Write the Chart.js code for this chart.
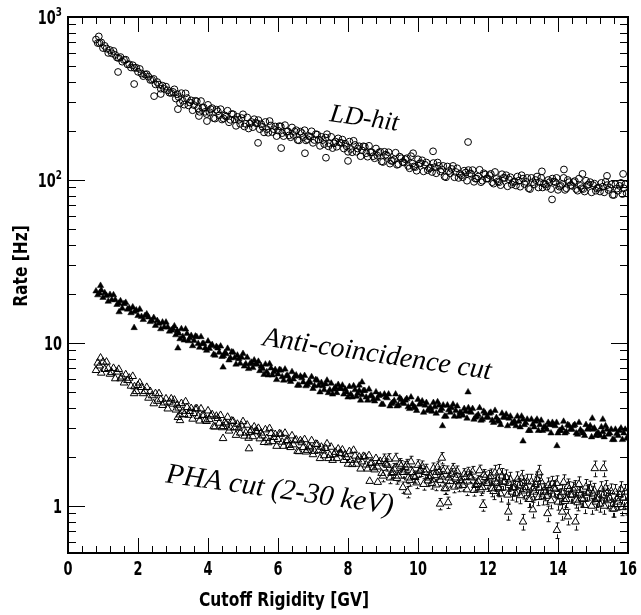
<!DOCTYPE html>
<html lang="en">
<head>
    <meta charset="UTF-8">
    <title>Rate vs Cutoff Rigidity</title>
    <script src="https://cdn.jsdelivr.net/npm/chart.js"></script>
    <style>
        body { margin: 0; background: #fff; }
        canvas { display: block; }
    </style>
</head>
<body>
    <canvas id="rateChart" width="641" height="615"></canvas>
    <script>
        // [cutoff rigidity GV, rate Hz]
        const ldHit = [[0.80,727],[0.85,692],[0.88,760],[0.90,692],[0.95,698],[1.00,645],[1.05,665],[1.10,640],[1.15,602],[1.20,627],[1.25,599],[1.30,619],[1.35,585],[1.40,564],[1.43,460],[1.45,560],[1.50,568],[1.55,532],[1.60,545],[1.65,547],[1.70,512],[1.75,513],[1.80,490],[1.85,506],[1.89,388],[1.90,487],[1.95,488],[2.00,461],[2.05,480],[2.10,450],[2.15,434],[2.20,444],[2.25,446],[2.30,430],[2.35,411],[2.40,412],[2.45,417],[2.46,327],[2.50,386],[2.55,399],[2.60,385],[2.65,363],[2.65,337],[2.70,379],[2.75,362],[2.80,374],[2.85,355],[2.90,343],[2.95,342],
            [3.00,347],[3.08,316],[3.14,272],[3.16,323],[3.24,341],[3.32,290],[3.40,318],[3.48,299],[3.56,268],[3.64,306],[3.72,275],[3.74,247],[3.80,305],[3.88,278],[3.96,254],[3.97,230],[4.04,261],[4.12,276],[4.20,238],[4.28,264],[4.36,272],[4.44,239],[4.52,245],[4.60,226],[4.68,254],[4.76,236],[4.84,244],[4.92,221],[5.00,253],[5.08,221],[5.16,207],[5.24,227],[5.32,236],[5.40,223],[5.43,169],[5.48,205],[5.56,212],[5.64,227],[5.72,195],[5.80,216],[5.88,205],[5.96,186],[6.04,214],[6.09,157],[6.12,194],[6.20,217],[6.28,199],[6.36,183],[6.44,189],[6.52,202],[6.60,175],[6.68,194],[6.76,202],[6.77,146],[6.84,178],[6.92,184],[7.00,169],[7.08,191],[7.16,177],[7.24,184],[7.32,166],[7.37,137],[7.40,191],[7.48,167],[7.56,157],[7.64,172],[7.72,180],[7.80,169],[7.88,156],[7.96,161],[8.00,131],[8.04,172],[8.12,148],[8.20,164],[8.28,156],[8.36,140],[8.44,161],[8.52,146],[8.60,162],[8.68,148],[8.76,136],[8.84,141],[8.92,149],[9.00,129],[9.08,143],[9.16,148],[9.24,131],[9.32,134],[9.40,124],[9.48,139],[9.56,129],[9.64,134],[9.72,122],[9.80,140],[9.86,146],[9.88,121],[9.96,114],[10.04,126],[10.12,132],[10.20,124],[10.28,115],[10.36,119],[10.43,150],[10.44,127],[10.52,110],[10.60,122],[10.68,116],[10.76,105],[10.84,121],[10.92,110],[11.00,122],[11.08,112],[11.16,103],[11.24,107],[11.32,114],[11.40,99],[11.43,171],[11.48,110],[11.56,115],[11.64,102],[11.72,105],[11.80,97],[11.88,110],[11.96,102],[12.04,107],[12.12,97],[12.20,112],[12.28,98],[12.36,93],[12.44,103],[12.52,107],[12.60,101],[12.68,94],[12.76,98],[12.84,105],[12.92,91],[13.00,102],[13.08,97.5],[13.16,89],[13.24,103],[13.32,94],[13.40,105],[13.48,97],[13.54,113],[13.56,90],[13.64,94],[13.72,100],[13.80,88],[13.83,76],[13.88,98],[13.96,103],[14.04,91],[14.12,94.5],[14.17,116],[14.20,87],[14.28,100],[14.36,93],[14.44,97],[14.52,88],[14.60,102],[14.68,89],[14.70,109],[14.76,85],[14.84,93],[14.92,97],[15.00,93],[15.08,86],[15.16,90],[15.24,96],[15.32,84],[15.40,93],[15.40,106],[15.48,89.5],[15.56,81],[15.64,94],[15.72,86],[15.80,96],[15.86,109],[15.88,89],[15.96,83],
            [3.04,360],[3.12,336],[3.20,297],[3.28,306],[3.36,340],[3.44,287],[3.52,308],[3.60,288],[3.68,304],[3.76,262],[3.84,277],[3.92,262],[4.00,289],[4.08,272],[4.16,240],[4.24,270],[4.32,249],[4.40,235],[4.48,249],[4.56,266],[4.64,234],[4.72,253],[4.80,215],[4.88,234],[4.96,240],[5.04,213],[5.12,242],[5.20,222],[5.28,211],[5.36,224],[5.44,233],[5.52,220],[5.60,196],[5.68,205],[5.76,230],[5.84,197],[5.92,213],[6.00,201],[6.08,213],[6.16,186],[6.24,198],[6.32,188],[6.40,210],[6.48,198],[6.56,176],[6.64,198],[6.72,183],[6.80,175],[6.88,186],[6.96,199],[7.04,176],[7.12,190],[7.20,162],[7.28,176],[7.36,182],[7.44,161],[7.52,184],[7.60,168],[7.68,160],[7.76,170],[7.84,177],[7.92,167],[8.00,149],[8.08,155],[8.16,174],[8.24,149],[8.32,161],[8.40,152],[8.48,160],[8.56,139],[8.64,148],[8.72,140],[8.80,156],[8.88,147],[8.96,130],
            [9.04,149],[9.12,141],[9.20,126],[9.28,131],[9.36,147],[9.44,125],[9.52,136],[9.60,128],[9.68,136],[9.76,118],[9.84,126],[9.92,120],[10.00,134],[10.08,127],[10.16,113],[10.24,128],[10.32,118],[10.40,112],[10.48,120],[10.56,128],[10.64,113],[10.72,122],[10.80,104],[10.88,113.5],[10.96,117],[11.04,104],[11.12,118],[11.20,109],[11.28,104],[11.36,111],[11.44,115],[11.52,109],[11.60,97.5],[11.68,102],[11.76,115.5],[11.84,99],[11.92,108],[12.00,102],[12.08,109],[12.16,95],[12.24,101.5],[12.32,97],[12.40,108.5],[12.48,103],[12.56,91.5],[12.64,104],[12.72,97],[12.80,92.5],[12.88,99],[12.96,107],[13.04,94.5],[13.12,103],[13.20,88],[13.28,97],[13.36,100],[13.44,90],[13.52,103],[13.60,95],[13.68,91],[13.76,97],[13.84,102],[13.92,97],[14.00,87],[14.08,92],[14.16,103],[14.24,89],[14.32,97],[14.40,92],[14.48,98.5],[14.56,86],[14.64,92],[14.72,88],[14.80,99],[14.88,94],[14.96,84],[15.04,95],[15.12,89],[15.20,85],[15.28,91],[15.36,97.5],[15.44,87],[15.52,94],[15.60,81],[15.68,88.5],[15.76,92],[15.84,82],[15.92,94]];

        const antiCut = [[0.80,20.8],[0.85,19.7],[0.90,20.2],[0.93,22.5],[0.95,21.1],[1.00,19.0],[1.05,20.3],[1.10,19.5],[1.15,18.0],[1.20,19.8],[1.25,18.4],[1.30,19.7],[1.35,18.4],[1.40,17.2],[1.45,17.5],[1.46,15.5],[1.50,18.1],[1.55,16.3],[1.60,17.4],[1.65,17.7],[1.70,16.1],[1.75,16.35],[1.80,15.3],[1.85,16.6],[1.89,12.4],[1.90,15.55],[1.95,15.9],[2.00,14.7],[2.05,16.1],[2.10,14.5],[2.15,13.9],[2.20,14.7],[2.25,15.05],[2.30,14.4],[2.35,13.5],[2.40,13.7],[2.45,14.3],[2.50,12.8],[2.55,13.7],[2.60,13.2],[2.65,12.2],[2.70,13.4],[2.75,12.5],[2.80,13.4],[2.85,12.5],[2.90,11.8],[2.95,12.0],
            [3.00,12.2],[3.08,11.2],[3.14,9.3],[3.16,11.5],[3.24,12.2],[3.32,10.4],[3.40,11.4],[3.48,10.75],[3.56,9.6],[3.64,11.0],[3.72,9.9],[3.80,10.9],[3.88,9.9],[3.96,9.0],[4.04,9.25],[4.12,9.75],[4.20,8.4],[4.28,9.3],[4.36,9.55],[4.43,7.1],[4.44,8.35],[4.52,8.57],[4.60,7.85],[4.68,8.8],[4.76,8.1],[4.84,8.4],[4.92,7.5],[5.00,8.6],[5.08,7.45],[5.16,6.95],[5.24,7.6],[5.32,7.85],[5.40,7.4],[5.48,6.75],[5.56,6.95],[5.64,7.4],[5.72,6.35],[5.80,7.0],[5.88,6.64],[5.96,5.95],[6.04,6.85],[6.12,6.2],[6.20,6.9],[6.28,6.3],[6.36,5.8],[6.44,6.0],[6.52,6.35],[6.60,5.5],[6.68,6.1],[6.76,6.3],[6.84,5.55],[6.92,5.72],[7.00,5.25],[7.08,5.95],[7.16,5.5],[7.24,5.7],[7.32,5.15],[7.40,5.9],[7.48,5.15],[7.56,4.85],[7.64,5.35],[7.72,5.55],[7.80,5.25],[7.88,4.85],[7.96,5.0],[8.04,5.4],[8.12,4.65],[8.20,5.15],[8.28,4.91],[8.32,5.5],[8.36,4.45],[8.40,5.75],[8.44,5.1],[8.52,4.65],[8.60,5.2],[8.68,4.75],[8.76,4.4],[8.84,4.55],[8.92,4.8],[9.00,4.2],[9.08,4.65],[9.16,4.85],[9.24,4.25],[9.32,4.42],[9.40,4.1],[9.48,4.6],[9.56,4.3],[9.64,4.45],[9.72,4.05],[9.80,4.65],[9.88,4.05],[9.96,3.85],[10.04,4.2],[10.12,4.4],[10.20,4.15],[10.28,3.85],[10.36,4.0],[10.44,4.3],[10.52,3.7],[10.60,4.15],[10.68,3.95],[10.70,3.1],[10.76,3.55],[10.84,4.15],[10.92,3.75],[11.00,4.2],[11.08,3.85],[11.16,3.55],[11.24,3.7],[11.32,3.95],[11.40,3.45],[11.43,5.0],[11.48,3.8],[11.56,3.95],[11.64,3.5],[11.72,3.63],[11.80,3.35],[11.88,3.8],[11.96,3.5],[12.04,3.7],[12.12,3.35],[12.20,3.85],[12.28,3.35],[12.36,3.15],[12.44,3.5],[12.52,3.65],[12.60,3.45],[12.68,3.2],[12.76,3.3],[12.84,3.55],[12.92,3.05],[13.00,3.4],[13.00,2.5],[13.08,3.23],[13.16,2.9],[13.24,3.4],[13.32,3.05],[13.40,3.4],[13.48,3.15],[13.56,2.9],[13.64,3.05],[13.72,3.25],[13.80,2.8],[13.88,3.15],[13.96,3.25],[13.97,2.34],[14.04,2.9],[14.12,3.0],[14.20,2.8],[14.28,3.15],[14.36,2.95],[14.44,3.1],[14.52,2.8],[14.60,3.25],[14.68,2.85],[14.76,2.7],[14.84,2.95],[14.92,3.1],[14.98,3.45],[15.00,2.95],[15.08,2.7],[15.16,2.8],[15.24,3.05],[15.28,3.4],[15.32,2.65],[15.40,2.95],[15.48,2.8],[15.56,2.55],[15.64,2.95],[15.72,2.7],[15.80,3.0],[15.88,2.8],[15.96,2.6],
            [3.04,12.7],[3.12,11.9],[3.20,10.6],[3.28,10.95],[3.36,12.15],[3.44,10.3],[3.52,11.1],[3.60,10.35],[3.68,10.9],[3.76,9.4],[3.84,9.9],[3.92,9.3],[4.00,10.25],[4.08,9.65],[4.16,8.5],[4.24,9.5],[4.32,8.75],[4.40,8.25],[4.48,8.7],[4.56,9.25],[4.64,8.1],[4.72,8.75],[4.80,7.4],[4.88,8.0],[4.96,8.15],[5.04,7.2],[5.12,8.15],[5.20,7.45],[5.28,7.05],[5.36,7.45],[5.44,7.7],[5.52,7.2],[5.60,6.4],[5.68,6.65],[5.76,7.45],[5.84,6.35],[5.92,6.85],[6.00,6.45],[6.08,6.8],[6.16,5.9],[6.24,6.28],[6.32,5.95],[6.40,6.65],[6.48,6.25],[6.56,5.5],[6.64,6.25],[6.72,5.75],[6.80,5.45],[6.88,5.8],[6.96,6.2],[7.04,5.45],[7.12,5.9],[7.20,5.0],[7.28,5.45],[7.36,5.6],[7.44,4.95],[7.52,5.65],[7.60,5.2],[7.68,4.95],[7.76,5.25],[7.84,5.5],[7.92,5.2],[8.00,4.65],[8.08,4.85],[8.16,5.45],[8.24,4.7],[8.32,5.1],[8.40,4.8],[8.48,5.1],[8.56,4.45],[8.64,4.73],[8.72,4.5],[8.80,5.0],[8.88,4.75],[8.96,4.2],
            [9.04,4.85],[9.12,4.6],[9.20,4.1],[9.28,4.3],[9.36,4.85],[9.44,4.15],[9.52,4.5],[9.60,4.25],[9.68,4.55],[9.76,3.95],[9.84,4.22],[9.92,4.0],[10.00,4.5],[10.08,4.25],[10.16,3.75],[10.24,4.3],[10.32,3.95],[10.40,3.8],[10.48,4.05],[10.56,4.35],[10.64,3.85],[10.72,4.15],[10.80,3.55],[10.88,3.89],[10.96,4.0],[11.04,3.55],[11.12,4.1],[11.20,3.75],[11.28,3.6],[11.36,3.8],[11.44,4.0],[11.52,3.75],[11.60,3.4],[11.68,3.55],[11.76,4.0],[11.84,3.4],[11.92,3.7],[12.00,3.5],[12.08,3.75],[12.16,3.25],[12.24,3.48],[12.32,3.3],[12.40,3.7],[12.48,3.5],[12.56,3.1],[12.64,3.55],[12.72,3.25],[12.80,3.1],[12.88,3.3],[12.96,3.55],[13.04,3.15],[13.12,3.4],[13.20,2.9],[13.28,3.17],[13.36,3.3],[13.44,2.9],[13.52,3.35],[13.60,3.05],[13.68,2.95],[13.76,3.15],[13.84,3.25],[13.92,3.1],[14.00,2.8],[14.08,2.9],[14.16,3.3],[14.24,2.85],[14.32,3.1],[14.40,2.95],[14.48,3.15],[14.56,2.75],[14.64,2.93],[14.72,2.8],[14.80,3.15],[14.88,3.0],[14.96,2.65],[15.04,3.0],[15.12,2.8],[15.20,2.7],[15.28,2.85],[15.36,3.1],[15.44,2.75],[15.52,2.95],[15.60,2.55],[15.68,2.78],[15.76,2.9],[15.84,2.55],[15.92,2.95]];

        const phaCut = [[0.80,6.8],[0.85,7.55],[0.90,7.25],[0.93,8.1],[0.95,6.55],[1.00,7.65],[1.05,6.9],[1.10,7.65],[1.15,7.0],[1.20,6.45],[1.25,6.6],[1.30,7.0],[1.35,6.05],[1.40,6.65],[1.45,6.9],[1.50,6.05],[1.55,6.2],[1.60,5.7],[1.65,6.4],[1.70,5.9],[1.75,6.1],[1.80,5.45],[1.85,6.25],[1.89,4.9],[1.90,5.4],[1.95,5.05],[2.00,5.5],[2.05,5.7],[2.10,5.35],[2.15,4.9],[2.20,5.05],[2.25,5.35],[2.30,4.6],[2.35,5.05],[2.40,4.76],[2.45,4.25],[2.50,4.9],[2.55,4.4],[2.60,4.9],[2.65,4.5],[2.70,4.15],[2.75,4.3],[2.80,4.55],[2.85,3.95],[2.90,4.35],[2.95,4.55],
            [3.00,4.23],[3.08,3.89],[3.14,3.5],[3.16,4.0],[3.20,3.35],[3.24,4.26],[3.32,3.65],[3.40,4.03],[3.48,3.81],[3.56,3.42],[3.64,3.94],[3.72,3.56],[3.80,3.95],[3.88,3.61],[3.96,3.31],[4.04,3.4],[4.12,3.64],[4.20,3.06],[4.28,3.45],[4.36,3.6],[4.43,2.6],[4.44,3.08],[4.52,3.19],[4.60,2.89],[4.68,3.33],[4.76,3.03],[4.84,3.18],[4.92,2.81],[5.00,3.3],[5.08,2.81],[5.16,2.61],[5.17,2.25],[5.24,2.92],[5.32,3.06],[5.40,2.86],[5.48,2.59],[5.56,2.7],[5.64,2.94],[5.72,2.45],[5.80,2.79],[5.88,2.64],[5.96,2.33],[6.04,2.78],[6.12,2.47],[6.20,2.8],[6.28,2.53],[6.36,2.29],[6.44,2.38],[6.52,2.55],[6.60,2.16],[6.68,2.45],[6.76,2.56],[6.84,2.2],[6.92,2.28],[7.00,2.07],[7.08,2.4],[7.16,2.19],[7.24,2.3],[7.32,2.04],[7.40,2.41],[7.48,2.05],[7.56,1.91],[7.64,2.14],[7.72,2.24],[7.80,2.1],[7.88,1.91],[7.96,1.99],[8.04,2.16],[8.12,1.8],[8.20,2.03],[8.28,1.92],[8.36,1.69],[8.44,2.02],[8.52,1.79],[8.60,2.04],[8.62,1.42],[8.68,1.84],[8.76,1.67],[8.84,1.74],[8.85,1.4],[8.92,1.88],[9.00,1.53],[9.08,1.81],[9.16,1.94],[9.24,1.59],[9.32,1.69],[9.40,1.48],[9.48,1.81],[9.56,1.61],[9.57,1.3],[9.64,1.73],[9.70,1.22],[9.72,1.49],[9.80,1.87],[9.88,1.52],[9.96,1.39],[10.04,1.63],[10.12,1.75],[10.20,1.61],[10.28,1.43],[10.36,1.52],[10.44,1.7],[10.52,1.35],[10.60,1.61],[10.63,1.03],[10.68,1.51],[10.68,1.97],[10.76,1.28],[10.84,1.63],[10.86,1.05],[10.92,1.42],[11.00,1.69],[11.08,1.49],[11.16,1.33],[11.24,1.41],[11.32,1.57],[11.40,1.26],[11.48,1.51],[11.56,1.62],[11.64,1.34],[11.72,1.42],[11.80,1.26],[11.86,1.01],[11.88,1.55],[11.96,1.38],[12.04,1.49],[12.12,1.28],[12.20,1.6],[12.28,1.3],[12.32,1.62],[12.36,1.19],[12.44,1.4],[12.52,1.5],[12.58,0.92],[12.60,1.38],[12.68,1.22],[12.76,1.3],[12.84,1.46],[12.92,1.16],[13.00,1.38],[13.00,0.8],[13.08,1.3],[13.16,1.1],[13.24,1.41],[13.28,0.95],[13.32,1.22],[13.40,1.46],[13.46,1.6],[13.48,1.29],[13.56,1.14],[13.64,1.21],[13.70,0.9],[13.72,1.34],[13.80,1.08],[13.88,1.29],[13.96,1.38],[13.97,0.71],[14.04,1.14],[14.12,1.21],[14.12,0.92],[14.20,1.07],[14.28,1.32],[14.28,0.86],[14.36,1.17],[14.44,1.26],[14.50,0.8],[14.52,1.09],[14.60,1.36],[14.68,1.11],[14.76,1.01],[14.84,1.2],[14.92,1.28],[15.00,1.19],[15.05,1.7],[15.08,1.06],[15.16,1.12],[15.24,1.27],[15.30,1.7],[15.32,1.0],[15.40,1.2],[15.48,1.12],[15.56,0.96],[15.64,1.22],[15.72,1.06],[15.80,1.27],[15.88,1.12],[15.96,0.99],
            [3.04,4.47],[3.12,4.17],[3.20,3.63],[3.28,3.82],[3.36,4.37],[3.44,3.61],[3.52,3.97],[3.60,3.7],[3.68,3.96],[3.76,3.33],[3.84,3.6],[3.92,3.38],[4.00,3.84],[4.08,3.57],[4.16,3.07],[4.24,3.56],[4.32,3.23],[4.40,3.03],[4.48,3.25],[4.56,3.51],[4.64,3.02],[4.72,3.31],[4.80,2.72],[4.88,3.01],[4.96,3.11],[5.04,2.69],[5.12,3.14],[5.20,2.84],[5.28,2.67],[5.36,2.88],[5.44,3.0],[5.52,2.81],[5.60,2.46],[5.68,2.6],[5.76,2.99],[5.84,2.49],[5.92,2.75],[6.00,2.57],[6.08,2.76],[6.16,2.33],[6.24,2.51],[6.32,2.36],[6.40,2.7],[6.48,2.52],[6.56,2.17],[6.64,2.52],[6.72,2.29],[6.80,2.15],[6.88,2.33],[6.96,2.52],[7.04,2.17],[7.12,2.39],[7.20,1.96],[7.28,2.18],[7.36,2.26],[7.44,1.96],[7.52,2.3],[7.60,2.07],[7.68,1.96],[7.76,2.11],[7.84,2.21],[7.92,2.07],[8.00,1.81],[8.08,1.91],[8.16,2.2],[8.24,1.81],[8.32,2.0],[8.40,1.87],[8.48,2.0],[8.56,1.69],[8.64,1.83],[8.72,1.72],[8.80,1.96],[8.88,1.84],[8.96,1.59],
            [9.04,1.93],[9.12,1.78],[9.20,1.49],[9.28,1.61],[9.36,1.95],[9.44,1.53],[9.52,1.76],[9.60,1.61],[9.68,1.79],[9.76,1.44],[9.84,1.61],[9.92,1.5],[10.00,1.78],[10.08,1.65],[10.16,1.36],[10.24,1.67],[10.32,1.49],[10.40,1.38],[10.48,1.54],[10.56,1.73],[10.64,1.44],[10.72,1.64],[10.80,1.28],[10.88,1.49],[10.96,1.57],[11.04,1.31],[11.12,1.63],[11.20,1.44],[11.28,1.34],[11.36,1.5],[11.44,1.6],[11.52,1.49],[11.60,1.25],[11.68,1.36],[11.76,1.65],[11.84,1.3],[11.92,1.5],[12.00,1.38],[12.08,1.52],[12.16,1.23],[12.24,1.38],[12.32,1.28],[12.40,1.53],[12.48,1.41],[12.56,1.17],[12.64,1.45],[12.72,1.29],[12.80,1.19],[12.88,1.33],[12.96,1.49],[13.04,1.24],[13.12,1.41],[13.20,1.1],[13.28,1.28],[13.36,1.36],[13.44,1.13],[13.52,1.41],[13.60,1.24],[13.68,1.15],[13.76,1.28],[13.84,1.37],[13.92,1.27],[14.00,1.06],[14.08,1.15],[14.16,1.4],[14.24,1.1],[14.32,1.27],[14.40,1.17],[14.48,1.29],[14.56,1.05],[14.64,1.17],[14.72,1.1],[14.80,1.31],[14.88,1.22],[14.96,1.0],[15.04,1.24],[15.12,1.1],[15.20,1.03],[15.28,1.16],[15.36,1.29],[15.44,1.08],[15.52,1.23],[15.60,0.96],[15.68,1.11],[15.76,1.18],[15.84,0.98],[15.92,1.22]];

        // relative error of the PHA points, by rigidity range [from GV, rel. error]
        const phaRelErr = [[0, 0.03], [6, 0.05], [9, 0.08], [12, 0.11]];

        const xTickLabels = ['0', '2', '4', '6', '8', '10', '12', '14', '16'];
        // y labels: [value, base, exponent]
        const yTickLabels = [[1, '1', ''], [10, '10', ''], [100, '10', '2'], [1000, '10', '3']];

        const notes = [
            { text: 'LD-hit', x: 7.46, y: 230, angle: 8, size: 26 },
            { text: 'Anti-coincidence cut', x: 5.54, y: 9.7, angle: 8.5, size: 28 },
            { text: 'PHA cut (2-30 keV)', x: 2.77, y: 1.40, angle: 8, size: 29 }
        ];

        const sansBold = '"DejaVu Sans", "Liberation Sans", sans-serif';

        function toPoints(arr) {
            return arr.map(p => ({ x: p[0], y: p[1] }));
        }

        function relErrAt(x) {
            let r = phaRelErr[0][1];
            phaRelErr.forEach(e => { if (x >= e[0]) r = e[1]; });
            return r;
        }

        // text squeezed horizontally, Helvetica-narrow look
        function narrowText(ctx, text, x, y, align, sx) {
            ctx.save();
            ctx.translate(x, y);
            ctx.scale(sx, 1);
            ctx.textAlign = align;
            ctx.fillText(text, 0, 0);
            ctx.restore();
        }

        // ROOT-like frame: ticks inside on all four sides, labels, titles, error bars
        const rootFrame = {
            id: 'rootFrame',
            afterDatasetsDraw(chart) {
                const ctx = chart.ctx, xs = chart.scales.x, ys = chart.scales.y;
                const a = chart.chartArea;
                ctx.save();
                ctx.beginPath();
                ctx.rect(a.left, a.top, a.right - a.left, a.bottom - a.top);
                ctx.clip();
                ctx.strokeStyle = '#111';
                ctx.lineWidth = 1;
                const m = 4;
                phaCut.forEach(p => {
                    const rel = relErrAt(p[0]);
                    const px = Math.round(xs.getPixelForValue(p[0])) + 0.5;
                    const py = ys.getPixelForValue(p[1]);
                    const hi = ys.getPixelForValue(p[1] * (1 + rel));
                    const lo = ys.getPixelForValue(p[1] * (1 - rel));
                    ctx.beginPath();
                    if (py - hi > m) {
                        ctx.moveTo(px, py - m); ctx.lineTo(px, hi);
                        ctx.moveTo(px - 2, hi); ctx.lineTo(px + 2, hi);
                    }
                    if (lo - py > m) {
                        ctx.moveTo(px, py + m); ctx.lineTo(px, lo);
                        ctx.moveTo(px - 2, lo); ctx.lineTo(px + 2, lo);
                    }
                    ctx.stroke();
                });
                ctx.restore();
            },
            afterDraw(chart) {
                const ctx = chart.ctx, xs = chart.scales.x, ys = chart.scales.y;
                const a = chart.chartArea;
                ctx.save();
                ctx.strokeStyle = '#000';

                // x ticks every 0.4 GV, long ones every 2 GV
                ctx.lineWidth = 1;
                ctx.beginPath();
                for (let i = 0; i <= 40; i++) {
                    const v = i * 0.4;
                    const len = (i % 5 === 0) ? 15 : 7;
                    const px = Math.round(xs.getPixelForValue(v)) + 0.5;
                    ctx.moveTo(px, a.bottom); ctx.lineTo(px, a.bottom - len);
                    ctx.moveTo(px, a.top); ctx.lineTo(px, a.top + len);
                }
                // y log ticks
                [0.1, 1, 10, 100, 1000].forEach(d => {
                    for (let k = 1; k <= 9; k++) {
                        const v = k * d;
                        if (v < ys.min || v > ys.max) continue;
                        const len = k === 1 ? 17 : 8;
                        const py = Math.round(ys.getPixelForValue(v)) + 0.5;
                        ctx.moveTo(a.left, py); ctx.lineTo(a.left + len, py);
                        ctx.moveTo(a.right, py); ctx.lineTo(a.right - len, py);
                    }
                });
                ctx.stroke();

                ctx.lineWidth = 2;
                ctx.strokeRect(a.left, a.top, a.right - a.left, a.bottom - a.top);

                ctx.fillStyle = '#000';
                ctx.textBaseline = 'middle';

                // tick labels, "10" about 18px wide
                ctx.font = 'bold 19px ' + sansBold;
                const sx = 18 / ctx.measureText('10').width;
                xTickLabels.forEach(t => {
                    narrowText(ctx, t, xs.getPixelForValue(Number(t)), a.bottom + 17, 'center', sx);
                });
                yTickLabels.forEach(t => {
                    const py = ys.getPixelForValue(t[0]) + 2;
                    let right = a.left - 6;
                    if (t[2]) {
                        ctx.font = 'bold 13px ' + sansBold;
                        const w = ctx.measureText(t[2]).width * sx;
                        narrowText(ctx, t[2], right, py - 6, 'right', sx);
                        right -= w;
                        ctx.font = 'bold 19px ' + sansBold;
                    }
                    narrowText(ctx, t[1], right, py, 'right', sx);
                });

                // axis titles, x title about 170px wide
                ctx.font = 'bold 20px ' + sansBold;
                const tx = 170 / ctx.measureText('Cutoff Rigidity [GV]').width;
                narrowText(ctx, 'Cutoff Rigidity [GV]', 284, 601, 'center', tx);
                ctx.save();
                ctx.translate(22, 266);
                ctx.rotate(-Math.PI / 2);
                narrowText(ctx, 'Rate [Hz]', 0, 0, 'center', tx);
                ctx.restore();

                // italic curve labels
                ctx.textAlign = 'left';
                ctx.textBaseline = 'alphabetic';
                notes.forEach(n => {
                    ctx.save();
                    ctx.translate(xs.getPixelForValue(n.x), ys.getPixelForValue(n.y));
                    ctx.rotate(n.angle * Math.PI / 180);
                    ctx.font = 'italic ' + n.size + 'px "Liberation Serif", "Times New Roman", serif';
                    ctx.fillText(n.text, 0, 0);
                    ctx.restore();
                });
                ctx.restore();
            }
        };

        new Chart(document.getElementById('rateChart'), {
            type: 'scatter',
            data: {
                datasets: [
                    {
                        label: 'LD-hit',
                        data: toPoints(ldHit),
                        pointStyle: 'circle',
                        pointRadius: 3.4,
                        borderWidth: 1,
                        borderColor: '#000',
                        backgroundColor: 'rgba(0,0,0,0)'
                    },
                    {
                        label: 'Anti-coincidence cut',
                        data: toPoints(antiCut),
                        pointStyle: 'triangle',
                        pointRadius: 3.7,
                        borderWidth: 0.5,
                        borderColor: '#000',
                        backgroundColor: '#000'
                    },
                    {
                        label: 'PHA cut (2-30 keV)',
                        data: toPoints(phaCut),
                        pointStyle: 'triangle',
                        pointRadius: 4.4,
                        borderWidth: 1,
                        borderColor: '#000',
                        backgroundColor: 'rgba(0,0,0,0)'
                    }
                ]
            },
            options: {
                responsive: false,
                animation: false,
                layout: { padding: { top: 17, right: 13, left: 0, bottom: 0 } },
                plugins: {
                    legend: { display: false },
                    tooltip: { enabled: false }
                },
                scales: {
                    x: {
                        type: 'linear',
                        min: 0,
                        max: 16,
                        grid: { display: false, drawTicks: false },
                        border: { display: false },
                        ticks: { display: false, stepSize: 2 },
                        afterFit(scale) { scale.height = 62; }
                    },
                    y: {
                        type: 'logarithmic',
                        min: 0.515,
                        max: 1000,
                        grid: { display: false, drawTicks: false },
                        border: { display: false },
                        ticks: { display: false },
                        afterFit(scale) { scale.width = 68; }
                    }
                }
            },
            plugins: [rootFrame]
        });
    </script>
</body>
</html>
